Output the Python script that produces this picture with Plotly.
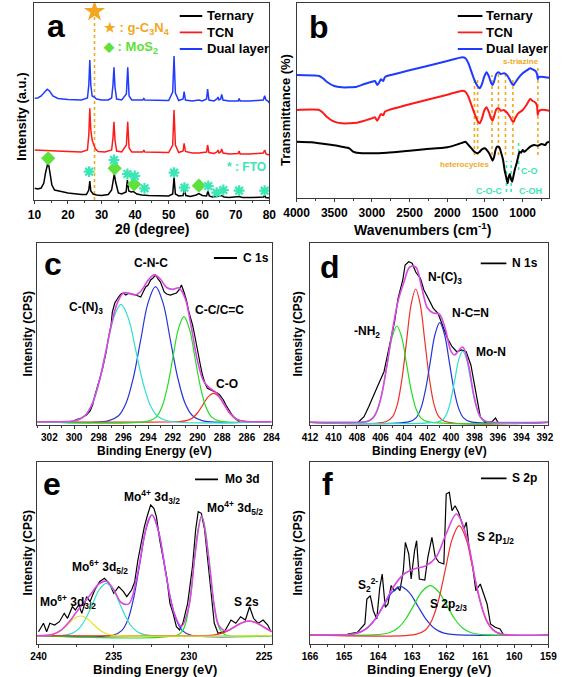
import plotly.graph_objects as go

FONT = "Liberation Sans, Arial, sans-serif"
W, H = 567, 677
FRAME = "#3a3a3a"

C_BLACK, C_RED, C_BLUE = "#000000", "#FF1A1A", "#1F3BFF"
ORANGE, LIME, AQUA = "#F2A81E", "#5FE03A", "#3BE6B5"
X_CYAN, X_BLUE, X_GREEN, X_RED, X_MAG, X_YEL = "#2FE0C9", "#2434D8", "#22DD22", "#F03028", "#DA48E4", "#E6E61E"

# ---------------- (a) XRD ----------------
xrd_series = ["Ternary", "TCN", "Dual layer"]
xrd_tern_x = [10, 11, 12, 12.8, 13.3, 13.7, 14.0, 14.3, 14.7, 15.2, 16, 17, 18, 20, 22, 24, 25.5, 26.2, 26.5, 26.8,
              27.5, 28.5, 30, 32, 33.0, 33.5, 33.8, 34.2, 35, 36, 37.3, 37.7, 38.1, 38.8, 39.5, 40.5, 42, 44, 47, 50,
              51.2, 51.6, 52.0, 53, 54.3, 54.7, 55.1, 56.5, 58.2, 59, 60, 61.3, 61.7, 62.1, 63, 64.5, 65.8, 66.5, 68, 71,
              72, 75, 78.3, 78.6, 78.9, 80]
xrd_tern_y = [11.7, 11, 12, 17, 27, 35, 37, 34, 24, 15, 10, 9, 8.5, 7, 6, 5.5, 5.5, 10, 19, 9,
              6, 5, 4.5, 5.5, 10, 22, 26, 18, 7, 6, 8, 20, 9, 8, 8.5, 6, 5, 4.5, 4, 4,
              6, 22.7, 6, 4, 4.5, 11, 4.5, 3.5, 5, 6.5, 4.5, 4, 9, 4, 3, 3.5, 4.5, 3, 2.5, 3.5,
              2.5, 2.5, 3, 5, 2.5, 2]
xrd_tcn_x = [10, 15, 20, 24, 25.8, 26.2, 26.5, 26.8, 27.2, 27.6, 28.2, 29, 31, 33.0, 33.4, 33.7, 34.0, 34.5, 36, 37.4,
             37.8, 38.2, 39, 42.3, 42.6, 42.9, 46, 50, 51.2, 51.6, 52.0, 53, 54.3, 54.6, 55.0, 57, 59, 61.3, 61.6, 62.0,
             63.5, 64.4, 64.7, 65.0, 65.5, 65.8, 66.2, 68, 70.7, 71.0, 71.3, 74, 78.2, 78.6, 79.0, 80]
xrd_tcn_y = [50, 49, 48.5, 48, 50, 65, 91.7, 70, 60, 56, 51, 48.5, 48, 50, 62, 78.3, 60, 49, 48, 55,
             78.3, 52, 48, 48, 50, 48, 47.5, 47.5, 55, 90, 55, 47.5, 49, 56.7, 48.5, 47, 47, 48, 55, 47.5,
             46.5, 48, 50, 47, 48, 51, 47, 46, 46.5, 49, 46, 46, 47, 50, 46, 45]
xrd_dual_x = [10, 11, 12, 13, 13.8, 14.5, 15.5, 17, 20, 24, 25.8, 26.2, 26.5, 26.8, 27.2, 27.8, 28.5, 30, 32, 33.0,
              33.4, 33.7, 34.0, 34.5, 36, 37.4, 37.8, 38.2, 39, 42.3, 42.6, 42.9, 46, 50, 51.2, 51.6, 52.0, 53, 54.3, 54.6,
              55.0, 57, 59, 60, 61.3, 61.6, 62.0, 63.5, 64.4, 64.7, 65.0, 65.5, 65.8, 66.2, 68, 70.7, 71.0, 71.3, 74, 78.2,
              78.6, 79.0, 79.6, 80]
xrd_dual_y = [101.7, 102, 104, 108, 110.7, 109, 104, 101.5, 100.5, 100, 102, 115, 140, 115, 104, 103, 101, 100, 100, 102,
              115, 132.7, 113, 101, 100, 106, 132.7, 104, 100, 100, 101.5, 100, 99.5, 99.5, 108, 144, 107, 99.5, 101, 108.3,
              100, 99, 100, 99, 101, 111, 100, 99, 101, 103, 100, 101, 105.7, 100, 99, 99, 101.5, 99, 99, 100,
              104.3, 100, 99, 97]
gcn_peak_x = [27.9]
gcn_peak_y = [188.5]
gcn_guide_y = [0, 184]
mos2_x = [14.1, 33.9, 39.7, 59.0]
mos2_y = [41.7, 31.7, 15.7, 14.3]
fto_x = [26.3, 33.7, 37.7, 39.9, 42.8, 51.6, 54.7, 61.8, 64.3, 66.3, 71.0, 78.6]
fto_y = [28.3, 40, 26, 24, 11.7, 27.3, 12.3, 14, 7.3, 10, 9.3, 9.3]

# ---------------- (b) FTIR ----------------
ftir_x = [4000, 3700, 3650, 3600, 3500, 3400, 3300, 3200, 3100, 3000, 2960, 2930, 2910, 2880, 2850, 2830, 2800, 2500, 2000, 1800,
          1760, 1720, 1680, 1640, 1600, 1570, 1540, 1510, 1480, 1450, 1420, 1400, 1380, 1350, 1320, 1290, 1250, 1220, 1200, 1170,
          1140, 1120, 1100, 1060, 1000, 950, 900, 870, 830, 810, 800, 790, 760, 700, 650]
ftir_dual_y = [123, 122, 119.7, 116.3, 112, 110.7, 110.7, 111.3, 114, 116.3, 117, 113, 114.7, 118.7, 117, 120.7, 122, 127.7, 137, 140.7,
               139.7, 134.7, 126.3, 118, 112, 109.7, 114, 121.3, 125.7, 122, 115.3, 113, 116.3, 124, 125.7, 124, 124.7, 123.7, 122, 118,
               114, 113, 115.3, 119.7, 124.7, 127.3, 129.7, 128.7, 127, 124, 118.7, 120.7, 121.3, 120.7, 120.3]
ftir_tcn_y = [88, 88, 85.3, 81.3, 76.3, 74.7, 74.7, 75.3, 77.3, 79.7, 80.7, 77.3, 79.7, 84, 82.7, 86, 87.3, 93.7, 103.3, 107.3,
              106.3, 101.3, 93, 84.7, 77.3, 74.7, 79.7, 87.3, 90.7, 86.3, 79.7, 77.3, 81.3, 88.7, 89.7, 87.3, 88, 86.3, 84.7, 81.3,
              77.3, 76.3, 79.7, 84.7, 88, 93, 99, 97.3, 95.3, 92, 83, 86.3, 88, 88, 87.3]
ftir_tern_x = [4000, 3800, 3700, 3600, 3500, 3400, 3300, 3250, 3200, 3000, 2800, 2500, 2300, 2000, 1850, 1800, 1760, 1720, 1680, 1640,
               1600, 1570, 1540, 1500, 1470, 1440, 1420, 1400, 1380, 1360, 1340, 1310, 1290, 1260, 1240, 1220, 1200, 1185, 1170, 1155,
               1140, 1120, 1100, 1080, 1060, 1040, 1020, 1000, 980, 950, 900, 850, 800, 750, 700, 680, 650]
ftir_tern_y = [56.3, 55.7, 54.7, 53.7, 52.7, 51.3, 49.7, 46.3, 45.3, 44.7, 45.3, 47.3, 48.7, 50.7, 54, 55.3, 56.3, 53, 49.7, 46.3,
               44.7, 46.3, 48.7, 49.7, 47.3, 44, 40.7, 37.3, 40.7, 48, 51.3, 50.7, 46.3, 38, 28, 21.3, 14.7, 21.3, 24, 18.7,
               16.3, 23, 29.7, 34.7, 41.3, 46.3, 45.3, 48, 46.3, 48, 51.3, 53, 52.3, 54, 53, 55.3, 56.3]
ftir_ring_wn = [1640, 1598, 1407, 1321, 1228, 1130, 798]
ftir_ring_lo = [43, 43, 43, 43, 43, 43, 43]
ftir_ring_hi = [121, 121, 123, 126, 126, 121, 132]
ftir_oxy_wn = [1215, 1152, 1054]
ftir_oxy_lo = [6, 6, 28]
ftir_oxy_hi = [37, 37, 55]

# ---------------- (c) C 1s ----------------
c_data_E = [300.1, 299.8, 299.4, 299.0, 298.7, 298.5, 298.3, 298.1, 297.9, 297.7, 297.4, 297.2, 297.0, 296.9, 296.7, 296.4, 296.2, 296.0, 295.8, 295.6,
            295.3, 295.1, 294.8, 294.6, 294.4, 294.2, 294.0, 293.8, 293.6, 293.4, 293.2, 293.0, 292.7, 292.5, 292.2, 291.9, 291.7, 291.5, 291.3, 291.1,
            290.9, 290.7, 290.4, 290.2, 290.0, 289.8, 289.6, 289.4, 289.2, 288.9, 288.7, 288.4, 288.2, 287.9, 287.7, 287.4, 287.2, 286.9, 286.6]
c_data_I = [3.5, 5.5, 7, 10, 14, 20, 30, 40, 47, 56, 73, 88, 100, 113, 122, 128, 131, 132, 130, 131.7,
            131, 130.5, 129, 128, 133, 138, 140, 145, 147, 150, 146, 143, 133, 131, 130, 131, 132, 135, 140, 133,
            125, 113, 100, 88, 76.7, 62, 50, 42, 36.7, 35, 33.3, 32, 30, 25, 20, 14, 10, 6, 3.3]
c_cn3_E = [303, 300.04, 299.2, 298.6, 298.0, 297.4, 296.8, 296.2, 295.6, 295.0, 294.4, 293.8, 293.2, 292.36, 284]
c_cn3_I = [3.3, 4.0, 8.5, 19.1, 41.5, 74.6, 106.8, 120.7, 106.8, 74.6, 41.5, 19.1, 8.5, 4.0, 3.3]
c_cnc_E = [303, 297.24, 296.4, 295.8, 295.2, 294.6, 294.0, 293.4, 292.8, 292.2, 291.6, 291.0, 290.4, 289.56, 284]
c_cnc_I = [3.3, 4.1, 9.2, 21.5, 47.2, 85.2, 122.4, 138.3, 122.4, 85.2, 47.2, 21.5, 9.2, 4.1, 3.3]
c_cc_E = [303, 293.98, 293.35, 292.9, 292.45, 292.0, 291.55, 291.1, 290.65, 290.2, 289.75, 289.3, 288.85, 288.22, 284]
c_cc_I = [3.3, 3.9, 7.9, 17.5, 37.4, 67.0, 95.9, 108.3, 95.9, 67.0, 37.4, 17.5, 7.9, 3.9, 3.3]
c_co_E = [303, 291.42, 290.825, 290.4, 289.975, 289.55, 289.125, 288.7, 288.275, 287.85, 287.425, 287.0, 286.575, 285.98, 284]
c_co_I = [3.3, 3.5, 4.6, 7.1, 12.5, 20.5, 28.4, 31.7, 28.4, 20.5, 12.5, 7.1, 4.6, 3.5, 3.3]
c_env_E = [303, 300.5, 300, 299.5, 299, 298.5, 298, 297.5, 297, 296.5, 296, 295.5, 295, 294.5, 294, 293.5, 293, 292.5, 292, 291.5,
           291, 290.5, 290, 289.5, 289, 288.5, 288, 287.5, 287, 286.5, 286, 284]
c_env_I = [3.3, 3.5, 4.1, 6.0, 11.0, 22.0, 41.6, 69.0, 98.8, 121.9, 132.0, 131.6, 130.1, 135.1, 144.9, 150.1, 145.7, 137.5, 135.6, 137.1,
           126.6, 97.6, 64.3, 43.8, 36.9, 32.5, 23.8, 13.8, 7.1, 4.3, 3.5, 3.3]

# ---------------- (d) N 1s ----------------
d_data_E = [407.9, 407.4, 407.0, 406.6, 406.2, 405.7, 405.2, 404.8, 404.5, 404.1, 403.9, 403.6, 403.3, 403.0, 402.6, 402.3, 402.0, 401.5, 401.1, 400.7,
            400.3, 399.9, 399.5, 399.1, 398.7, 398.3, 397.9, 397.5, 397.1, 396.5, 396.2, 396.0]
d_data_I = [2.7, 8.3, 18.3, 30, 40, 53.3, 80, 103.3, 126.7, 145, 160, 163.3, 161.7, 153, 146.7, 135, 128.3, 116.7, 111.7, 100,
            86.7, 78.3, 73.3, 75, 73.3, 60, 33.3, 8.3, 2.7, 3.3, 7, 2.7]
d_nh2_E = [391.7, 401.98, 402.55, 402.96, 403.37, 403.78, 404.19, 404.6, 405.01, 405.42, 405.83, 406.24, 406.65, 407.22, 412]
d_nh2_I = [2.7, 3.3, 6.9, 15.7, 34.0, 61.1, 87.6, 99.0, 87.6, 61.1, 34.0, 15.7, 6.9, 3.3, 2.7]
d_nc3_E = [391.7, 400.5, 401.05, 401.44, 401.83, 402.22, 402.61, 403.0, 403.39, 403.78, 404.17, 404.56, 404.95, 405.5, 412]
d_nc3_I = [2.7, 3.5, 8.6, 20.7, 46.0, 83.6, 120.3, 136.0, 120.3, 83.6, 46.0, 20.7, 8.6, 3.5, 2.7]
d_ncn_E = [391.7, 398.36, 398.925, 399.33, 399.735, 400.14, 400.545, 400.95, 401.355, 401.76, 402.165, 402.57, 402.975, 403.54, 412]
d_ncn_I = [2.7, 3.3, 7.1, 16.1, 35.1, 63.2, 90.5, 102.3, 90.5, 63.2, 35.1, 16.1, 7.1, 3.3, 2.7]
d_mon_E = [391.7, 396.89, 397.35, 397.68, 398.01, 398.34, 398.67, 399.0, 399.33, 399.66, 399.99, 400.32, 400.65, 401.11, 412]
d_mon_I = [2.7, 3.1, 5.8, 12.3, 25.9, 46.0, 65.6, 74.0, 65.6, 46.0, 25.9, 12.3, 5.8, 3.1, 2.7]
d_env_E = [412, 408, 407.5, 407, 406.5, 406, 405.5, 405, 404.5, 404, 403.5, 403, 402.5, 402, 401.5, 401, 400.5, 400, 399.7, 399.5,
           399, 398.5, 398, 397.5, 397, 396.5, 391.7]
d_env_I = [2.7, 2.7, 2.9, 4.0, 9.3, 25.2, 56.2, 93.2, 124, 143, 158, 158, 138, 117, 112, 111, 97, 74, 70, 72,
           78, 60, 27, 8.1, 3.4, 2.7, 2.7]

# ---------------- (e) Mo 3d ----------------
e_data_E = [240.0, 239.67, 239.46, 239.25, 238.93, 238.61, 238.29, 238.07, 237.75, 237.55, 237.33, 237.12, 236.8, 236.58, 236.26, 235.94, 235.62, 235.3, 234.99, 234.67,
            234.35, 234.13, 233.81, 233.6, 233.39, 233.18, 232.96, 232.75, 232.54, 232.33, 232.16, 231.94, 231.73, 231.48, 231.26, 231.05, 230.83, 230.62, 230.4, 230.08,
            229.76, 229.55, 229.38, 229.17, 228.95, 228.74, 228.53, 228.31, 228.06, 227.63, 227.2, 226.88, 226.56, 226.24, 225.96, 225.7, 225.38, 225.06, 224.75, 224.54]
e_data_I = [12.3, 20.7, 12.3, 20.7, 19, 22.3, 30.7, 25.7, 37.3, 34, 39, 30.7, 47.3, 42.3, 54, 62.3, 65.7, 60.7, 50.7, 57.3,
            52.3, 47.3, 54, 62.3, 84, 100.7, 117.3, 129, 139, 135.7, 127.3, 104, 87.3, 67.3, 40.7, 30.7, 17.3, 14, 20.7, 40.7,
            77.3, 114, 132.3, 130.7, 114, 84, 47.3, 20.7, 10.7, 12.3, 24, 20.7, 27.3, 24, 37.3, 25.7, 20.7, 24, 19, 12.3]
e_mo6a_E = [224.5, 234.64, 235.2, 235.6, 236.0, 236.4, 236.8, 237.2, 237.6, 238.0, 238.4, 238.8, 239.2, 239.76, 240.1]
e_mo6a_I = [8.3, 8.4, 9.2, 11.0, 14.7, 20.3, 25.7, 28.0, 25.7, 20.3, 14.7, 11.0, 9.2, 8.4, 8.3]
e_mo6b_E = [224.5, 232.59, 233.225, 233.68, 234.135, 234.59, 235.045, 235.5, 235.955, 236.41, 236.865, 237.32, 237.775, 238.41, 240.1]
e_mo6b_I = [8.3, 8.6, 10.6, 15.4, 25.3, 40.1, 54.5, 60.7, 54.5, 40.1, 25.3, 15.4, 10.6, 8.6, 8.3]
e_mo4a_E = [224.5, 229.89, 230.45, 230.85, 231.25, 231.65, 232.05, 232.45, 232.85, 233.25, 233.65, 234.05, 234.45, 235.01, 240.1]
e_mo4a_I = [8.3, 9.0, 13.6, 24.6, 47.5, 81.6, 114.8, 129.0, 114.8, 81.6, 47.5, 24.6, 13.6, 9.0, 8.3]
e_mo4b_E = [224.5, 227.55, 227.9, 228.15, 228.4, 228.65, 228.9, 229.15, 229.4, 229.65, 229.9, 230.15, 230.4, 230.75, 240.1]
e_mo4b_I = [8.3, 9.0, 13.6, 24.5, 47.2, 81.0, 113.9, 128.0, 113.9, 81.0, 47.2, 24.5, 13.6, 9.0, 8.3]
e_s2s_E = [222.96, 223.625, 224.1, 224.575, 225.05, 225.525, 226.0, 226.475, 226.95, 227.425, 227.9, 228.375, 229.04, 240.1]
e_s2s_I = [8.4, 8.9, 10.3, 13.1, 17.2, 21.3, 23.0, 21.3, 17.2, 13.1, 10.3, 8.9, 8.4, 8.3]
e_env_E = [240.1, 239.5, 239, 238.5, 238, 237.5, 237, 236.5, 236, 235.5, 235, 234.5, 234, 233.5, 233, 232.7, 232.45, 232, 231.5, 231,
           230.5, 230, 229.6, 229.15, 228.7, 228.3, 228, 227.5, 227, 226.5, 226, 225.5, 225, 224.5]
e_env_I = [8.3, 8.6, 9.9, 13.8, 21.5, 31.4, 40.9, 50.3, 59.8, 62.8, 54.5, 41.5, 40.1, 64.1, 104.9, 123.7, 129.0, 111.4, 67.9, 31.8,
           17.6, 37.6, 88.3, 128.0, 88.4, 37.3, 18.4, 13.0, 16.8, 21.1, 23.0, 21.1, 16.8, 12.5]

# ---------------- (f) S 2p ----------------
f_data_E = [164.89, 164.61, 164.39, 164.33, 164.23, 164.14, 164.04, 163.95, 163.88, 163.79, 163.71, 163.62, 163.52, 163.43, 163.36, 163.26, 163.2, 163.1, 163.03, 162.93,
            162.87, 162.79, 162.63, 162.54, 162.42, 162.32, 162.21, 162.07, 162.0, 161.91, 161.83, 161.74, 161.64, 161.55, 161.48, 161.41, 161.33, 161.22, 161.13, 161.0,
            160.89, 160.8, 160.7, 160.56, 160.42, 160.33]
f_data_I = [10, 11.7, 20, 45, 48.3, 33.3, 25, 56.7, 70, 36.7, 40, 58.3, 53.3, 56.7, 53.3, 73.3, 101.7, 90, 65, 93.3,
            103.3, 65, 64, 86.7, 106.7, 86.7, 81.7, 80, 150, 151.7, 133.3, 138.3, 131.7, 123.3, 115, 121.7, 96.7, 76.7, 53.3, 60,
            50, 40, 20, 16.7, 15, 10]
f_s22_E = [159, 161.74, 162.09, 162.34, 162.59, 162.84, 163.09, 163.34, 163.59, 163.84, 164.09, 164.34, 164.59, 164.94, 166]
f_s22_I = [9, 9.3, 11.1, 15.5, 24.7, 38.3, 51.6, 57.3, 51.6, 38.3, 24.7, 15.5, 11.1, 9.3, 9]
f_p23_E = [159, 160.93, 161.27, 161.51, 161.75, 161.99, 162.23, 162.47, 162.71, 162.95, 163.19, 163.43, 163.67, 164.01, 166]
f_p23_I = [9, 9.3, 11.2, 15.7, 25.0, 38.9, 52.5, 58.3, 52.5, 38.9, 25.0, 15.7, 11.2, 9.3, 9]
f_p12_E = [159, 160.34, 160.62, 160.82, 161.02, 161.22, 161.42, 161.62, 161.82, 162.02, 162.22, 162.42, 162.62, 162.9, 166]
f_p12_I = [9, 9.7, 13.8, 23.8, 44.5, 75.3, 105.4, 118.3, 105.4, 75.3, 44.5, 23.8, 13.8, 9.7, 9]
f_env_E = [166, 165.5, 165, 164.7, 164.4, 164.1, 163.8, 163.5, 163.2, 162.9, 162.6, 162.3, 162.0, 161.7, 161.4, 161.1, 160.8, 160.5, 160.2, 159]
f_env_I = [9, 9, 9.2, 10.2, 14.1, 24.3, 41.7, 59.8, 71.0, 75.5, 78.1, 86.7, 110.4, 130.0, 107.1, 56.7, 22.4, 11.2, 9.2, 9]

# ---------------- figure ----------------
fig = go.Figure()


def ids(i):
    return ("x" if i == 1 else f"x{i}", "y" if i == 1 else f"y{i}")


def add_line(i, x, y, color, width, shape="linear", dash=None, name=None, smoothing=1.0):
    xa, ya = ids(i)
    fig.add_trace(go.Scatter(x=x, y=y, mode="lines", name=name, showlegend=False, xaxis=xa, yaxis=ya,
                             line=dict(color=color, width=width, shape=shape, dash=dash,
                                       smoothing=smoothing if shape == "spline" else None),
                             hoverinfo="skip"))


def add_guides(i, xs, lo, hi, color, width=1.6):
    gx, gy = [], []
    for xv, a, b in zip(xs, lo, hi):
        gx += [xv, xv, None]
        gy += [a, b, None]
    add_line(i, gx, gy, color, width, dash="dot")


# (a)
add_guides(1, gcn_peak_x, [gcn_guide_y[0]], [gcn_guide_y[1]], ORANGE, 1.6)
add_line(1, xrd_dual_x, xrd_dual_y, C_BLUE, 1.5, name=xrd_series[2])
add_line(1, xrd_tcn_x, xrd_tcn_y, C_RED, 1.5, name=xrd_series[1])
add_line(1, xrd_tern_x, xrd_tern_y, C_BLACK, 1.5, name=xrd_series[0])
fig.add_trace(go.Scatter(x=gcn_peak_x, y=gcn_peak_y, mode="markers", xaxis="x", yaxis="y", showlegend=False,
                         marker=dict(symbol="star", size=16, color=ORANGE), hoverinfo="skip"))
fig.add_trace(go.Scatter(x=mos2_x, y=mos2_y, mode="markers", xaxis="x", yaxis="y", showlegend=False,
                         marker=dict(symbol="diamond", size=11, color=LIME), hoverinfo="skip"))
fig.add_trace(go.Scatter(x=fto_x, y=fto_y, mode="markers", xaxis="x", yaxis="y", showlegend=False,
                         marker=dict(symbol="asterisk-open", size=9, color=AQUA, line=dict(color=AQUA, width=2.2)),
                         hoverinfo="skip"))

# (b)
add_guides(2, ftir_ring_wn, ftir_ring_lo, ftir_ring_hi, ORANGE, 1.6)
add_guides(2, ftir_oxy_wn, ftir_oxy_lo, ftir_oxy_hi, AQUA, 1.6)
add_line(2, ftir_x, ftir_dual_y, C_BLUE, 2.0, shape="spline", name=xrd_series[2], smoothing=0.6)
add_line(2, ftir_x, ftir_tcn_y, C_RED, 2.0, shape="spline", name=xrd_series[1], smoothing=0.6)
add_line(2, ftir_tern_x, ftir_tern_y, C_BLACK, 2.0, shape="spline", name=xrd_series[0], smoothing=0.6)

# (c)
add_line(3, c_data_E, c_data_I, C_BLACK, 1.2, name="C 1s")
add_line(3, c_cnc_E, c_cnc_I, X_BLUE, 1.2, "spline")
add_line(3, c_co_E, c_co_I, X_RED, 1.2, "spline")
add_line(3, c_cc_E, c_cc_I, X_GREEN, 1.2, "spline")
add_line(3, c_cn3_E, c_cn3_I, X_CYAN, 1.2, "spline")
add_line(3, c_env_E, c_env_I, X_MAG, 1.6, "spline")

# (d)
add_line(4, d_data_E, d_data_I, C_BLACK, 1.2, name="N 1s")
add_line(4, d_nc3_E, d_nc3_I, X_RED, 1.2, "spline")
add_line(4, d_ncn_E, d_ncn_I, X_BLUE, 1.2, "spline")
add_line(4, d_nh2_E, d_nh2_I, X_GREEN, 1.2, "spline")
add_line(4, d_mon_E, d_mon_I, X_CYAN, 1.2, "spline")
add_line(4, d_env_E, d_env_I, X_MAG, 1.6, "spline")

# (e)
add_line(5, e_data_E, e_data_I, C_BLACK, 1.2, name="Mo 3d")
add_line(5, e_mo4a_E, e_mo4a_I, X_BLUE, 1.2, "spline")
add_line(5, e_mo6b_E, e_mo6b_I, X_CYAN, 1.2, "spline")
add_line(5, e_mo4b_E, e_mo4b_I, X_GREEN, 1.2, "spline")
add_line(5, e_s2s_E, e_s2s_I, X_RED, 1.2, "spline")
add_line(5, e_mo6a_E, e_mo6a_I, X_YEL, 1.2, "spline")
add_line(5, e_env_E, e_env_I, X_MAG, 1.6, "spline")

# (f)
add_line(6, f_data_E, f_data_I, C_BLACK, 1.2, name="S 2p")
add_line(6, f_s22_E, f_s22_I, X_BLUE, 1.2, "spline")
add_line(6, f_p23_E, f_p23_I, X_GREEN, 1.2, "spline")
add_line(6, f_p12_E, f_p12_I, X_RED, 1.2, "spline")
add_line(6, f_env_E, f_env_I, X_MAG, 1.6, "spline")

# ---------------- axes ----------------
boxes = {1: (22.3, 3, 266.7, 200), 2: (295, 3, 557.7, 198), 3: (25, 243, 269, 425),
         4: (309, 243, 557, 425), 5: (25, 462, 269, 644), 6: (309, 462, 557, 644)}
xranges = {1: [10, 80], 2: [4000, 650], 3: [303, 284], 4: [412, 391.7], 5: [240.1, 224.5], 6: [166, 159]}
yranges = {1: [0, 197], 2: [0, 195], 3: [0, 182], 4: [0, 182], 5: [0, 182], 6: [0, 182]}
dticks = {1: (10, 5), 2: (500, 250), 3: (2, 1), 4: (2, 1), 5: (5, 2.5), 6: (1, 0.5)}
tfont = {1: 12, 2: 12, 3: 10, 4: 10, 5: 10, 6: 10}

layout = dict(width=W, height=H, autosize=False, margin=dict(l=0, r=0, t=0, b=0),
              paper_bgcolor="white", plot_bgcolor="white", showlegend=False,
              font=dict(family=FONT, color="black"))
for i, (l, t, r, b) in boxes.items():
    xa, ya = ids(i)
    xk = "xaxis" if i == 1 else f"xaxis{i}"
    yk = "yaxis" if i == 1 else f"yaxis{i}"
    layout[xk] = dict(domain=[l / W, r / W], range=xranges[i], anchor=ya,
                      showline=True, mirror=True, linecolor=FRAME, linewidth=1.4,
                      ticks="outside", ticklen=3, tickwidth=1.2, tickcolor=FRAME,
                      tick0=0, dtick=dticks[i][0],
                      minor=dict(ticks="outside", ticklen=2, tickwidth=1, tickcolor=FRAME, tick0=0, dtick=dticks[i][1]),
                      showgrid=False, zeroline=False,
                      tickfont=dict(family=FONT, size=tfont[i], color="black", weight="bold"))
    layout[yk] = dict(domain=[1 - b / H, 1 - t / H], range=yranges[i], anchor=xa,
                      showline=True, mirror=True, linecolor=FRAME, linewidth=1.4,
                      ticks="", showticklabels=False, showgrid=False, zeroline=False)

ann = []
shapes = []


def txt(text, x, y, size, color="black", xref="paper", yref="paper", xanchor="center", angle=0, weight="bold"):
    if xref == "paper":
        x = x / W
        y = 1 - y / H
    ann.append(dict(text=text, x=x, y=y, xref=xref, yref=yref, showarrow=False, xanchor=xanchor, yanchor="middle",
                    textangle=angle, font=dict(family=FONT, size=size, color=color, weight=weight)))


# panel letters
for letter, (px, py) in {"a": (44.5, 26), "b": (318, 27), "c": (41.5, 264), "d": (330, 267), "e": (41, 484), "f": (327.5, 484)}.items():
    txt(letter, px, py, 32)

# axis titles
txt("2θ (degree)", 144.7, 229, 14)
txt("Wavenumbers (cm<sup>-1</sup>)", 426, 229, 14)
txt("Binding Energy (eV)", 147, 451, 12)
txt("Binding Energy (eV)", 433, 451, 12)
txt("Binding Energy (eV)", 147.7, 669, 13)
txt("Binding Energy (eV)", 433, 669, 13)
txt("Intensity (a.u.)", 9, 117, 13, angle=-90)
txt("Transmittance (%)", 283, 110, 13, angle=-90)
txt("Intensity (CPS)", 16, 334, 12, angle=-90)
txt("Intensity (CPS)", 297, 334, 12, angle=-90)
txt("Intensity (CPS)", 16, 553, 12, angle=-90)
txt("Intensity (CPS)", 297, 553, 12, angle=-90)


# in-panel legends (line key + label)
def key(i, x0, x1, y, label, color, tx, size):
    xa, ya = ids(i)
    shapes.append(dict(type="line", xref=xa, yref=ya, x0=x0, x1=x1, y0=y, y1=y, line=dict(color=color, width=1.8)))
    txt(label, tx, y, size, xref=xa, yref=ya, xanchor="left")


for lab, col, yy in zip(xrd_series, [C_BLACK, C_RED, C_BLUE], [184, 167.7, 151]):
    key(1, 53.3, 60.0, yy, lab, col, 60.9, 13)
for lab, col, yy in zip(xrd_series, [C_BLACK, C_RED, C_BLUE], [182, 165.7, 149]):
    key(2, 1861, 1534, yy, lab, col, 1513, 13)
key(3, 288.67, 286.8, 167, "C 1s", C_BLACK, 286.5, 12)
key(4, 397.46, 395.28, 161.7, "N 1s", C_BLACK, 395.0, 12)
key(5, 229.59, 228.06, 164.7, "Mo 3d", C_BLACK, 227.75, 12)
key(6, 160.98, 160.23, 165.7, "S 2p", C_BLACK, 160.14, 12)

# (a) phase annotations
txt("★ : g-C<sub>3</sub>N<sub>4</sub>", 30.0, 171, 13, ORANGE, "x", "y", "left")
txt("◆ : MoS<sub>2</sub>", 29.9, 152.5, 13, LIME, "x", "y", "left")
txt("* : FTO", 66.8, 33, 12, AQUA, "x", "y", "left")

# (b) band annotations
txt("s-triazine", 1028, 136, 8, ORANGE, "x2", "y2")
txt("heterocycles", 1768, 33, 8, ORANGE, "x2", "y2")
txt("C-O", 913, 27, 9, AQUA, "x2", "y2")
txt("C-O-C", 1449, 7, 9, AQUA, "x2", "y2")
txt("C-OH", 900, 7, 9, AQUA, "x2", "y2")

# (c)
txt("C-(N)<sub>3</sub>", 299.03, 117, 12, xref="x3", yref="y3")
txt("C-N-C", 293.8, 162, 12, xref="x3", yref="y3")
txt("C-C/C=C", 288.2, 115, 12, xref="x3", yref="y3")
txt("C-O", 287.62, 41, 12, xref="x3", yref="y3")
# (d)
txt("-NH<sub>2</sub>", 407.15, 93, 12, xref="x4", yref="y4")
txt("N-(C)<sub>3</sub>", 400.54, 147, 12, xref="x4", yref="y4")
txt("N-C=N", 398.35, 112, 12, xref="x4", yref="y4")
txt("Mo-N", 396.57, 73, 12, xref="x4", yref="y4")
# (e)
txt("Mo<sup>6+</sup> 3d<sub>3/2</sub>", 238.02, 42, 12, xref="x5", yref="y5")
txt("Mo<sup>6+</sup> 3d<sub>5/2</sub>", 235.89, 77, 12, xref="x5", yref="y5")
txt("Mo<sup>4+</sup> 3d<sub>3/2</sub>", 232.48, 147, 12, xref="x5", yref="y5")
txt("Mo<sup>4+</sup> 3d<sub>5/2</sub>", 226.94, 136, 12, xref="x5", yref="y5")
txt("S 2s", 226.19, 42, 12, xref="x5", yref="y5")
# (f)
txt("S<sub>2</sub><sup>2-</sup>", 164.30, 59, 12, xref="x6", yref="y6")
txt("S 2p<sub>2/3</sub>", 161.93, 39, 12, xref="x6", yref="y6")
txt("S 2p<sub>1/2</sub>", 160.54, 106, 12, xref="x6", yref="y6")

layout["annotations"] = ann
layout["shapes"] = shapes
fig.update_layout(**layout)
fig.write_html("out.html", config={"displayModeBar": False},
               post_script="document.body.style.margin='0';document.body.style.padding='0';"
                           "document.documentElement.style.overflow='hidden';")
